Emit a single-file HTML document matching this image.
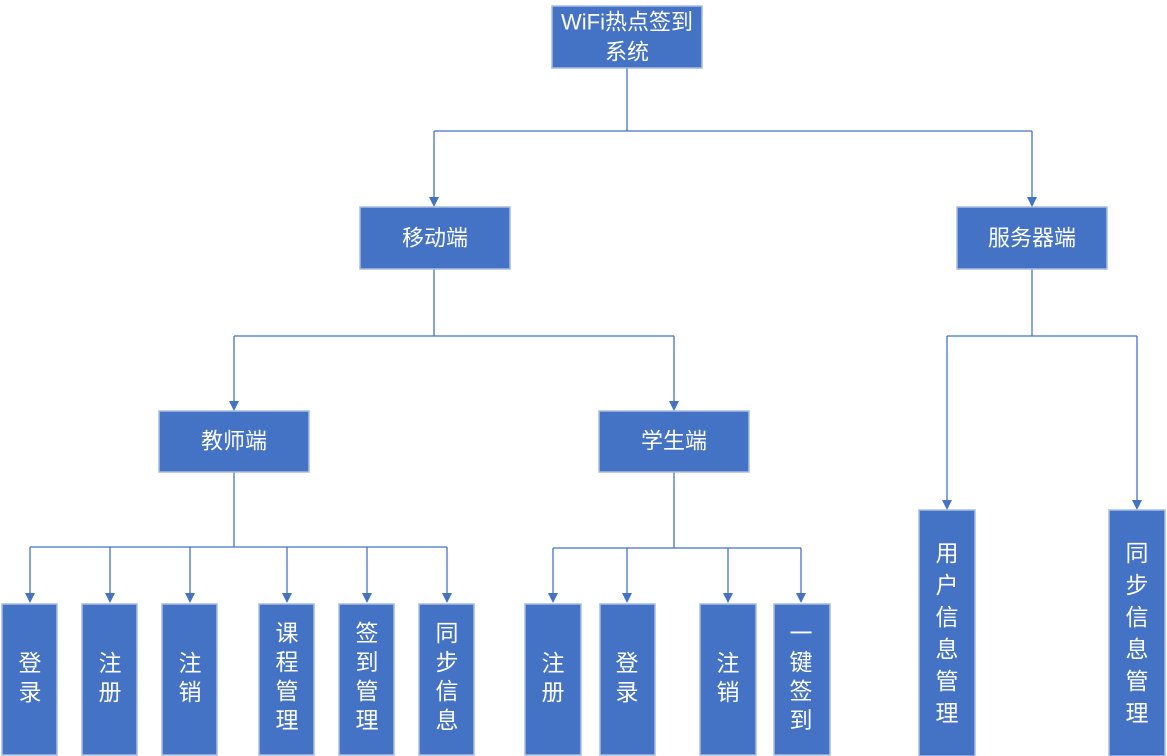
<!DOCTYPE html>
<html><head><meta charset="utf-8"><style>
html,body{margin:0;padding:0;background:#fff;width:1167px;height:756px;overflow:hidden}
svg{display:block}
text{font-family:"Liberation Sans","Noto Sans CJK SC",sans-serif;fill:#fff;text-anchor:middle;dominant-baseline:central}
</style></head><body>
<svg width="1167" height="756" viewBox="0 0 1167 756" xmlns="http://www.w3.org/2000/svg">
<g stroke="#4472c4" stroke-width="1.3" fill="none">
<polyline points="627,68 627,131"/>
<polyline points="434,131 1032,131"/>
<polyline points="434,131 434,198"/>
<polyline points="1032,131 1032,198"/>
<polyline points="434,269 434,336"/>
<polyline points="234,336 674,336"/>
<polyline points="234,336 234,402"/>
<polyline points="674,336 674,402"/>
<polyline points="234,472 234,547"/>
<polyline points="30,547 447,547"/>
<polyline points="30,547 30,594"/><polyline points="110,547 110,594"/><polyline points="190,547 190,594"/><polyline points="287,547 287,594"/><polyline points="367,547 367,594"/><polyline points="447,547 447,594"/>
<polyline points="674,472 674,548"/>
<polyline points="553,548 801,548"/>
<polyline points="553,548 553,594"/><polyline points="627,548 627,594"/><polyline points="728,548 728,594"/><polyline points="801,548 801,594"/>
<polyline points="1032,269 1032,336"/>
<polyline points="947,336 1137,336"/>
<polyline points="947,336 947,501"/><polyline points="1137,336 1137,501"/>
</g>
<g fill="#4472c4">
<path d="M429,197 L439,197 L434,207 Z"/><path d="M1027,197 L1037,197 L1032,207 Z"/>
<path d="M229,401 L239,401 L234,411 Z"/><path d="M669,401 L679,401 L674,411 Z"/>
<path d="M25,593 L35,593 L30,603 Z"/><path d="M105,593 L115,593 L110,603 Z"/><path d="M185,593 L195,593 L190,603 Z"/><path d="M282,593 L292,593 L287,603 Z"/><path d="M362,593 L372,593 L367,603 Z"/><path d="M442,593 L452,593 L447,603 Z"/>
<path d="M548,593 L558,593 L553,603 Z"/><path d="M622,593 L632,593 L627,603 Z"/><path d="M723,593 L733,593 L728,603 Z"/><path d="M796,593 L806,593 L801,603 Z"/>
<path d="M942,500 L952,500 L947,510 Z"/><path d="M1132,500 L1142,500 L1137,510 Z"/>
</g>
<g fill="#4472c4" stroke="#a9bde3" stroke-width="1.5">
<rect x="552" y="6" width="150" height="62"/>
<rect x="360" y="207" width="150" height="62"/>
<rect x="957" y="207" width="150" height="62"/>
<rect x="159" y="411" width="150" height="61"/>
<rect x="599" y="411" width="150" height="61"/>
<rect x="2" y="604" width="55" height="151"/>
<rect x="82" y="604" width="55" height="151"/>
<rect x="162" y="604" width="55" height="151"/>
<rect x="259" y="604" width="55" height="151"/>
<rect x="339" y="604" width="55" height="151"/>
<rect x="419" y="604" width="55" height="151"/>
<rect x="525" y="604" width="56" height="151"/>
<rect x="600" y="604" width="55" height="151"/>
<rect x="700" y="604" width="56" height="151"/>
<rect x="774" y="604" width="56" height="151"/>
<rect x="919" y="510" width="56" height="246"/>
<rect x="1109" y="510" width="56" height="246"/>
</g>
<g font-size="22">
<text x="627" y="22">WiFi热点签到</text>
<text x="627" y="52">系统</text>
<text x="435" y="238">移动端</text>
<text x="1032" y="238">服务器端</text>
<text x="234" y="441">教师端</text>
<text x="674" y="441">学生端</text>
</g>
<g font-size="23">
<text x="30" y="663">登</text><text x="30" y="692">录</text>
<text x="110" y="663">注</text><text x="110" y="692">册</text>
<text x="190" y="663">注</text><text x="190" y="692">销</text>
<text x="287" y="633">课</text><text x="287" y="662">程</text><text x="287" y="691">管</text><text x="287" y="720">理</text>
<text x="367" y="633">签</text><text x="367" y="662">到</text><text x="367" y="691">管</text><text x="367" y="720">理</text>
<text x="447" y="633">同</text><text x="447" y="662">步</text><text x="447" y="691">信</text><text x="447" y="720">息</text>
<text x="553" y="663">注</text><text x="553" y="692">册</text>
<text x="627" y="663">登</text><text x="627" y="692">录</text>
<text x="728" y="663">注</text><text x="728" y="692">销</text>
<text x="801" y="633">一</text><text x="801" y="662">键</text><text x="801" y="691">签</text><text x="801" y="720">到</text>
<text x="947" y="553">用</text><text x="947" y="585">户</text><text x="947" y="617">信</text><text x="947" y="649">息</text><text x="947" y="681">管</text><text x="947" y="713">理</text>
<text x="1137" y="553">同</text><text x="1137" y="585">步</text><text x="1137" y="617">信</text><text x="1137" y="649">息</text><text x="1137" y="681">管</text><text x="1137" y="713">理</text>
</g>
</svg>
</body></html>
